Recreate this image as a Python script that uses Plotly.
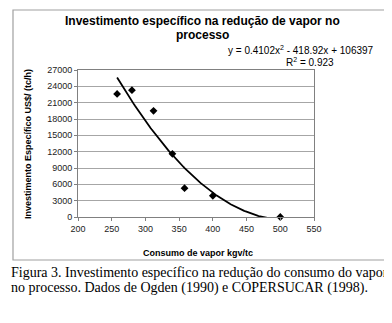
import numpy as np
import plotly.graph_objects as go

# Data
consumo = [258, 280, 312, 340, 358, 400, 500]          # kgv/tc
investimento = [22600, 23300, 19500, 11600, 5300, 3900, 0]  # US$/(tc/h)
# Trendline coefficients as printed on the chart (y = a x^2 + b x + c)
trend_coef = [0.4102, -418.92, 106397]
x_ticks = [200, 250, 300, 350, 400, 450, 500, 550]
y_ticks = [0, 3000, 6000, 9000, 12000, 15000, 18000, 21000, 24000, 27000]

W, H = 392, 323
L, R, T, B = 70, 306, 62, 209


def px(x):
    return (x - L) / (R - L)


def py(y):
    return (B - y) / (B - T)


xs = np.linspace(min(consumo), max(consumo), 200)
ys = np.polyval(trend_coef, xs)

fig = go.Figure()
fig.add_trace(go.Scatter(x=xs, y=ys, mode="lines",
                         line=dict(color="black", width=1.8),
                         hoverinfo="skip", showlegend=False))
fig.add_trace(go.Scatter(x=consumo, y=investimento, mode="markers",
                         marker=dict(symbol="diamond", size=6, color="black"),
                         showlegend=False, cliponaxis=False))

axis_font = dict(family="Liberation Sans, Arial, sans-serif", size=9, color="#222")
fig.update_xaxes(range=[200, 550], tickvals=x_ticks, ticktext=[str(v) for v in x_ticks],
                 ticks="outside", ticklen=3,
                 tickcolor="#808080", showline=True, linecolor="#808080",
                 linewidth=1, mirror=True, showgrid=False, zeroline=False,
                 tickfont=axis_font)
fig.update_yaxes(range=[0, 27000], tickvals=y_ticks, ticktext=[str(v) for v in y_ticks],
                 ticks="outside", ticklen=3,
                 tickcolor="#808080", showline=True, linecolor="#808080",
                 linewidth=1, mirror=True, showgrid=True, gridcolor="#a6a6a6",
                 gridwidth=1, zeroline=False, tickfont=axis_font)

sans = "Liberation Sans, Arial, sans-serif"
serif = "Liberation Serif, Times New Roman, serif"
ann = []
ann.append(dict(text="<b>Investimento específico na redução de vapor no</b>",
                x=px(194), y=py(13), font=dict(family=sans, size=12, color="black")))
ann.append(dict(text="<b>processo</b>", x=px(194), y=py(27),
                font=dict(family=sans, size=12, color="black")))
ann.append(dict(text="y = 0.4102x<sup>2</sup> - 418.92x + 106397", x=px(293), y=py(42),
                font=dict(family=sans, size=10, color="black")))
ann.append(dict(text="R<sup>2</sup> = 0.923", x=px(302), y=py(54),
                font=dict(family=sans, size=10, color="black")))
ann.append(dict(text="<b>Consumo de vapor kgv/tc</b>", x=px(190), y=py(245),
                font=dict(family=sans, size=9, color="black")))
ann.append(dict(text="<b>Investimento Específico US$/ (tc/h)</b>", x=px(20), y=py(136),
                textangle=-90, font=dict(family=sans, size=9, color="black")))
ann.append(dict(text="Figura 3. Investimento específico na redução do consumo do vapor",
                x=px(1), y=py(264), xanchor="left",
                font=dict(family=serif, size=14, color="black")))
ann.append(dict(text="no processo. Dados de Ogden (1990) e COPERSUCAR (1998).",
                x=px(1), y=py(280), xanchor="left",
                font=dict(family=serif, size=14, color="black")))
for a in ann:
    a.setdefault("xanchor", "center")
    a.update(xref="paper", yref="paper", yanchor="middle", showarrow=False)

fig.update_layout(
    width=W, height=H, margin=dict(l=L, r=W - R, t=T, b=H - B),
    paper_bgcolor="white", plot_bgcolor="white",
    annotations=ann,
    shapes=[dict(type="rect", xref="paper", yref="paper",
                 x0=px(5), x1=px(387), y0=py(252), y1=py(2),
                 line=dict(color="#a0a0a0", width=1.2), layer="below")],
)

fig.write_html("out.html")
